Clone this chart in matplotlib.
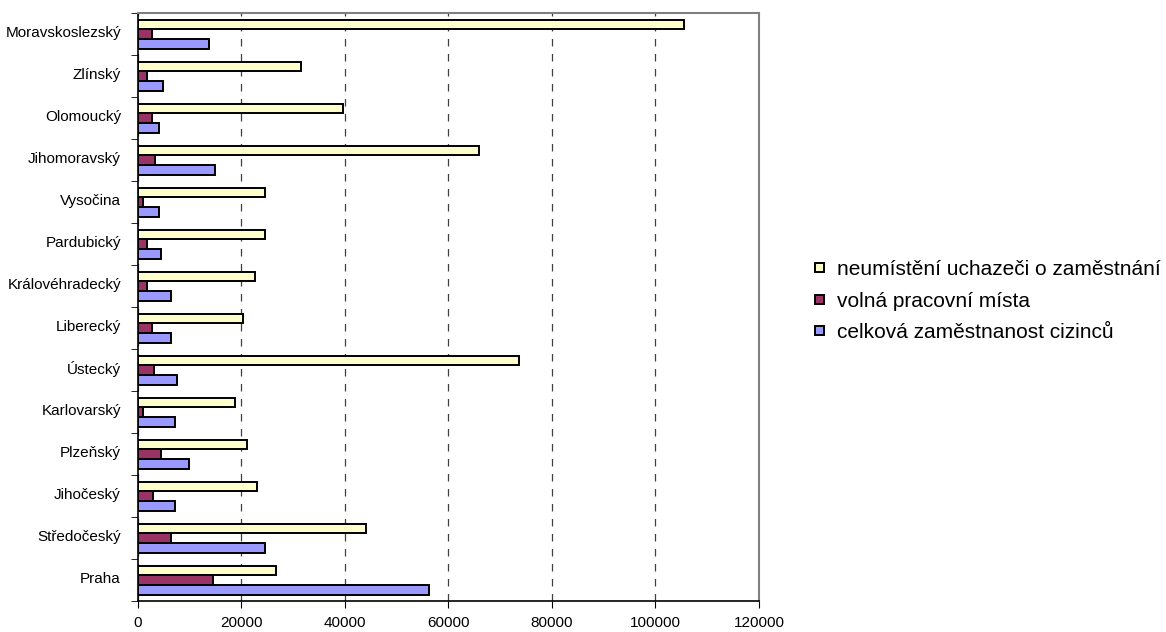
import matplotlib.pyplot as plt
import matplotlib.transforms as mtransforms
import numpy as np

plt.rcParams['font.family'] = ['Liberation Sans', 'DejaVu Sans']

# === Data (bottom to top) ===
regions = ["Praha", "Středočeský", "Jihočeský", "Plzeňský", "Karlovarský",
           "Ústecký", "Liberecký", "Královéhradecký", "Pardubický", "Vysočina",
           "Jihomoravský", "Olomoucký", "Zlínský", "Moravskoslezský"]
uchazeci = [26800, 44100, 23000, 21100, 18900, 73700, 20400, 22700, 24600,
            24600, 66000, 39600, 31500, 105500]
volna_mista = [14600, 6500, 3000, 4600, 1100, 3100, 2700, 1900, 1900, 1100,
               3400, 2700, 1900, 2700]
cizinci = [56300, 24600, 7300, 10000, 7300, 7700, 6400, 6400, 4600, 4200,
           15000, 4200, 4900, 13700]

labels = ["neumístění uchazeči o zaměstnání", "volná pracovní místa",
          "celková zaměstnanost cizinců"]
colors = ["#FFFFCC", "#993366", "#9999FF"]

# === Plot ===
fig = plt.figure(figsize=(11.66, 6.32), dpi=100)
ax = fig.add_axes([0.118, 0.049, 0.533, 0.930])

y = np.arange(len(regions))
h = 0.23
series = [uchazeci, volna_mista, cizinci]
offsets = [h, 0, -h]
for vals, off, col, lab in zip(series, offsets, colors, labels):
    ax.barh(y + off, vals, height=h, color=col, edgecolor="black",
            linewidth=1.4, label=lab, zorder=3)

ax.set_xlim(0, 120000)
ax.set_ylim(-0.5, len(regions) - 0.5)
ax.set_xticks(np.arange(0, 120001, 20000))
ax.set_yticks(y)
ax.set_yticklabels(regions)
ax.set_yticks(np.arange(-0.5, len(regions), 1), minor=True)
ax.tick_params(axis="y", which="major", length=0, pad=12, labelsize=11)
ax.tick_params(axis="y", which="minor", length=5, direction="out")
ax.tick_params(axis="x", length=5, direction="out", labelsize=11, pad=6)

# labels sit a little above the group centre
shift = mtransforms.ScaledTranslation(0, 2 / 72, fig.dpi_scale_trans)
for t in ax.get_yticklabels():
    t.set_transform(t.get_transform() + shift)

ax.grid(axis="x", linestyle=(0, (6, 6)), color="#404040", linewidth=0.9, zorder=0)
for side in ["top", "right"]:
    ax.spines[side].set_color("#808080")
    ax.spines[side].set_linewidth(1.5)
for side in ["left", "bottom"]:
    ax.spines[side].set_linewidth(1.2)

fig.legend(loc="center left", bbox_to_anchor=(0.683, 0.523), frameon=False,
           fontsize=15, handlelength=0.43, handleheight=0.29, handletextpad=0.6,
           labelspacing=0.6)

plt.savefig("out.png", dpi=100)
